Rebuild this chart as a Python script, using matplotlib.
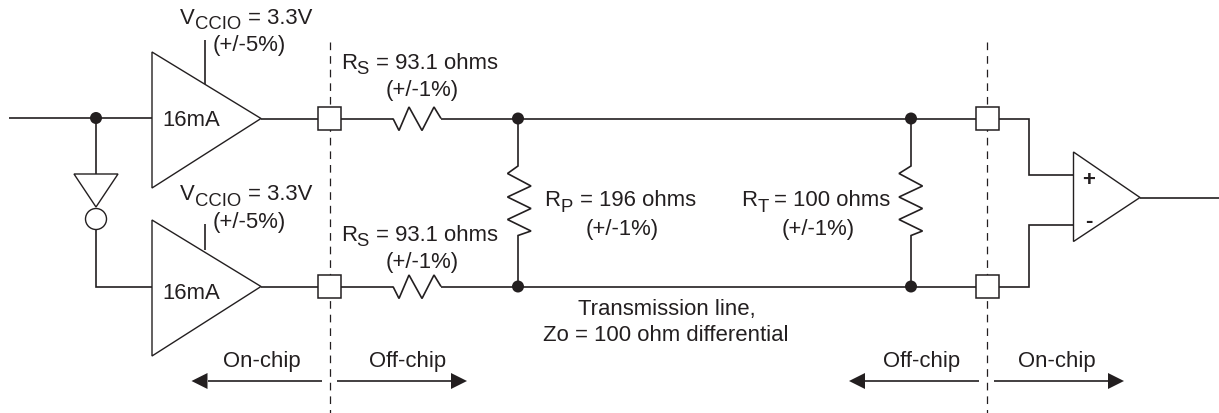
#!/usr/bin/python3
import matplotlib
matplotlib.use('Agg')
import matplotlib.pyplot as plt
from matplotlib.patches import Circle, Polygon, Rectangle

INK = '#231f20'

# everything below is in reference pixels, y going down
wires = [
    [(9, 118), (152, 118)],
    [(96, 118), (96, 174)],
    [(96, 229), (96, 286.5), (152, 286.5)],
    [(261, 118.5), (393, 118.5)],
    [(441, 118.5), (987, 118.5)],
    [(261, 286.5), (393, 286.5)],
    [(441, 286.5), (987, 286.5)],
    [(205, 40), (205, 84)],
    [(205, 224), (205, 250)],
    [(987, 118.5), (1028.5, 118.5), (1028.5, 174.5), (1073.5, 174.5)],
    [(987, 286.5), (1028.5, 286.5), (1028.5, 225), (1073.5, 225)],
    [(1140, 197.5), (1219, 197.5)],
]
triangles = [
    [(152, 52), (152, 188), (261, 118.5)],
    [(152, 220), (152, 356), (261, 286.5)],
    [(74, 174), (118, 174), (96, 207)],
    [(1073.5, 152), (1073.5, 241.5), (1140, 197.5)],
]
inverter_bubble = (96, 219, 10.5)
junctions = [(96, 118), (518, 118.5), (518, 286.5), (911, 118.5), (911, 286.5)]
pads = [(329.5, 118.5), (329.5, 286.5), (987, 118.5), (987, 286.5)]
boundaries = [(329.5, 42, 413), (987, 42, 413)]

resistors_h = [
    [(393, 118.5), (399, 130.5), (409, 107), (422, 130.5), (434, 107), (441, 118.5)],
    [(393, 286.5), (399, 298.5), (409, 275), (422, 298.5), (434, 275), (441, 286.5)],
]
resistors_v = [
    [(518, 118.5), (518, 166), (507.5, 173.5), (531, 186), (507.5, 197), (531, 208.5),
     (507.5, 219.5), (531, 231), (518, 235.5), (518, 286.5)],
    [(911, 118.5), (911, 166), (899, 173.5), (922.5, 186), (899, 197), (922.5, 208.5),
     (899, 219.5), (922.5, 231), (911, 235.5), (911, 286.5)],
]
# tail x, tip x, y
arrows = [
    (321.5, 191.5, 381),
    (336.5, 467, 381),
    (979, 849, 381),
    (994, 1124, 381),
]

plain_labels = [
    ('(+/-5%)', 249.5, 51.5, 'center'),
    ('(+/-5%)', 249.5, 228, 'center'),
    ('(+/-1%)', 422.5, 96, 'center'),
    ('(+/-1%)', 422.5, 268, 'center'),
    ('(+/-1%)', 622.5, 234.5, 'center'),
    ('(+/-1%)', 818, 234.5, 'center'),
    ('16mA', 162, 125.5, 'left'),
    ('16mA', 162, 299, 'left'),
    ('On-chip', 223.5, 367.5, 'left'),
    ('Off-chip', 369, 367.5, 'left'),
    ('Off-chip', 883, 367.5, 'left'),
    ('On-chip', 1018, 367.5, 'left'),
    ('Transmission line,', 666.5, 315, 'center'),
    ('Zo = 100 ohm differential', 666, 341, 'center'),
]
input_signs = [('+', 1089, 186), ('-', 1089, 227)]
# main letter, subscript, rest, x of each, baseline
sub_labels = [
    ('V', 'CCIO', '= 3.3V', 180, 194.5, 248, 23.5),
    ('V', 'CCIO', '= 3.3V', 180, 194.5, 248, 200.5),
    ('R', 'S', '= 93.1 ohms', 341.5, 356, 376, 69),
    ('R', 'S', '= 93.1 ohms', 341.5, 356, 376, 241),
    ('R', 'P', '= 196 ohms', 544.5, 560, 580, 206.5),
    ('R', 'T', '= 100 ohms', 741, 758, 774, 206.5),
]


def main():
    fig = plt.figure(figsize=(12.19, 4.13), dpi=100)
    ax = fig.add_axes([0, 0, 1, 1])
    ax.set_xlim(0, 1219)
    ax.set_ylim(413, 0)
    ax.axis('off')

    text_style = dict(family='Liberation Sans', color=INK, va='baseline')
    body = 15.9
    small = 13.3

    for x, y0, y1 in boundaries:
        ax.plot([x, x], [y0, y1], color=INK, lw=0.9, zorder=1,
                dashes=(5.5 / 0.9, 4.3 / 0.9), dash_capstyle='butt')

    for pts in wires + resistors_h + resistors_v:
        xs, ys = zip(*pts)
        ax.plot(xs, ys, color=INK, lw=1.2, zorder=2, solid_joinstyle='miter', solid_capstyle='butt')

    for pts in triangles:
        ax.add_patch(Polygon(pts, closed=True, facecolor='white', edgecolor=INK, lw=1.0, zorder=3))

    bx, by, br = inverter_bubble
    ax.add_patch(Circle((bx, by), br, facecolor='white', edgecolor=INK, lw=1.0, zorder=3))

    for x, y in pads:
        ax.add_patch(Rectangle((x - 11.5, y - 11.5), 23, 23, facecolor='white',
                               edgecolor=INK, lw=1.1, zorder=3))

    for x, y in junctions:
        ax.add_patch(Circle((x, y), 6, facecolor=INK, edgecolor='none', zorder=4))

    for tail, tip, y in arrows:
        direction = 1 if tip > tail else -1
        base = tip - direction * 16
        ax.plot([tail, base], [y, y], color=INK, lw=1.2, zorder=2, solid_capstyle='butt')
        ax.add_patch(Polygon([(tip, y), (base, y - 8), (base, y + 8)], closed=True,
                             facecolor=INK, edgecolor='none', zorder=3))

    for text, x, y, ha in plain_labels:
        ax.text(x, y, text, fontsize=body, ha=ha, zorder=5, **text_style)

    for sign, x, y in input_signs:
        ax.text(x, y, sign, fontsize=body, fontweight='bold', ha='center', zorder=5, **text_style)

    for main_text, sub, rest, x0, x1, x2, y in sub_labels:
        ax.text(x0, y, main_text, fontsize=body, ha='left', zorder=5, **text_style)
        ax.text(x1, y + 5.5, sub, fontsize=small, ha='left', zorder=5, **text_style)
        ax.text(x2, y, rest, fontsize=body, ha='left', zorder=5, **text_style)

    fig.savefig('out.png', dpi=100, facecolor='white')


if __name__ == '__main__':
    main()
